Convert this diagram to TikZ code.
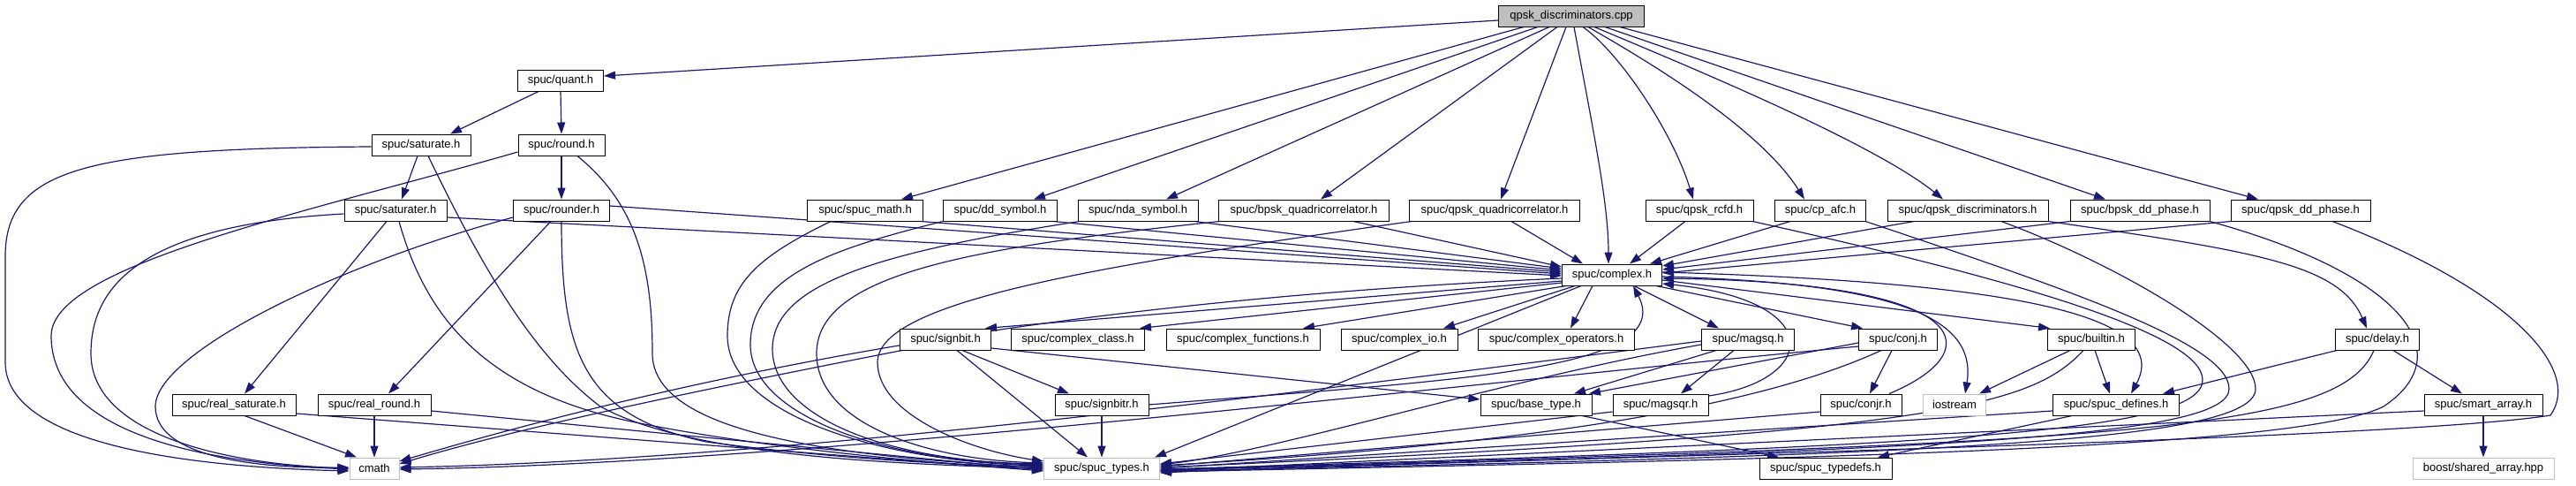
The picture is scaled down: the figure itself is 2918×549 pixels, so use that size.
\documentclass[tikz,border=0pt]{standalone}
\usepackage{fontspec}
\setmainfont{Liberation Sans}
\usetikzlibrary{arrows.meta}
\definecolor{edgec}{HTML}{191970}
\definecolor{grayb}{HTML}{BFBFBF}
\pgfdeclarelayer{bg}
\pgfsetlayers{bg,main}
\tikzset{
  nb/.style={draw=black, line width=1pt, fill=white, minimum height=24pt, inner sep=0pt, font=\fontsize{13pt}{15pt}\selectfont},
  ng/.style={nb, draw=grayb},
  ncpp/.style={nb, fill=grayb},
  e/.style={draw=edgec, line width=1.2pt, -{Triangle[length=13pt,width=9pt]}},
}
\begin{document}
\begin{tikzpicture}[x=1pt,y=-1pt]
\useasboundingbox (0,0) rectangle (2918,549);
% level 0
\node[ncpp, minimum width=165pt] (cpp) at (1780,18) {qpsk\_discriminators.cpp};
% level 1
\node[nb, minimum width=97pt] (quant) at (635,91) {spuc/quant.h};
% level 2
\node[nb, minimum width=112pt] (saturate) at (477,164) {spuc/saturate.h};
\node[nb, minimum width=98pt] (round) at (636,164) {spuc/round.h};
% level 3
\node[nb, minimum width=116pt] (saturater) at (448,238) {spuc/saturater.h};
\node[nb, minimum width=109pt] (rounder) at (636,238) {spuc/rounder.h};
\node[nb, minimum width=131pt] (sm) at (980,238) {spuc/spuc\_math.h};
\node[nb, minimum width=129pt] (dd) at (1133,238) {spuc/dd\_symbol.h};
\node[nb, minimum width=136pt] (nda) at (1289,238) {spuc/nda\_symbol.h};
\node[nb, minimum width=193pt] (bq) at (1477,238) {spuc/bpsk\_quadricorrelator.h};
\node[nb, minimum width=193pt] (qq) at (1693,238) {spuc/qpsk\_quadricorrelator.h};
\node[nb, minimum width=122pt] (rcfd) at (1925,238) {spuc/qpsk\_rcfd.h};
\node[nb, minimum width=103pt] (cpafc) at (2062,238) {spuc/cp\_afc.h};
\node[nb, minimum width=182pt] (qd) at (2229,238) {spuc/qpsk\_discriminators.h};
\node[nb, minimum width=158pt] (bdd) at (2424,238) {spuc/bpsk\_dd\_phase.h};
\node[nb, minimum width=158pt] (qdd) at (2606,238) {spuc/qpsk\_dd\_phase.h};
% level 4
\node[nb, minimum width=113pt] (cx) at (1826,311) {spuc/complex.h};
% level 5
\node[nb, minimum width=103pt] (sb) at (1071,384) {spuc/signbit.h};
\node[nb, minimum width=151pt] (cc) at (1221,384) {spuc/complex\_class.h};
\node[nb, minimum width=174pt] (cf) at (1408,384) {spuc/complex\_functions.h};
\node[nb, minimum width=132pt] (cio) at (1585,384) {spuc/complex\_io.h};
\node[nb, minimum width=177pt] (cop) at (1763,384) {spuc/complex\_operators.h};
\node[nb, minimum width=105pt] (msq) at (1980,384) {spuc/magsq.h};
\node[nb, minimum width=89pt] (conj) at (2150,384) {spuc/conj.h};
\node[nb, minimum width=99pt] (bi) at (2369,384) {spuc/builtin.h};
\node[nb, minimum width=95pt] (dly) at (2693,384) {spuc/delay.h};
% level 6
\node[nb, minimum width=140pt] (rs) at (265,458) {spuc/real\_saturate.h};
\node[nb, minimum width=128pt] (rr) at (424,458) {spuc/real\_round.h};
\node[nb, minimum width=106pt] (sbr) at (1248,458) {spuc/signbitr.h};
\node[nb, minimum width=126pt] (bt) at (1740,458) {spuc/base\_type.h};
\node[nb, minimum width=108pt] (msqr) at (1881,458) {spuc/magsqr.h};
\node[nb, minimum width=92pt] (conjr) at (2108,458) {spuc/conjr.h};
\node[ng, minimum width=71pt] (ios) at (2214,458) {iostream};
\node[nb, minimum width=143pt] (sdef) at (2397,458) {spuc/spuc\_defines.h};
\node[nb, minimum width=134pt] (sa) at (2813,458) {spuc/smart\_array.h};
% level 7
\node[ng, minimum width=56pt] (cmath) at (424,530) {cmath};
\node[ng, minimum width=131pt] (st) at (1248,530) {spuc/spuc\_types.h};
\node[nb, minimum width=150pt] (std) at (2068,530) {spuc/spuc\_typedefs.h};
\node[ng, minimum width=160pt] (boost) at (2813,530) {boost/shared\_array.hpp};

\begin{pgfonlayer}{bg}
% from cpp
\draw[e] ([yshift=-5pt]cpp.west) -- ([yshift=5pt]quant.east);
\draw[e] ([xshift=-54pt]cpp.south) -- ([xshift=41pt]sm.north);
\draw[e] ([xshift=-38pt]cpp.south) -- ([xshift=38pt]dd.north);
\draw[e] ([xshift=-25pt]cpp.south) -- ([xshift=32pt]nda.north);
\draw[e] ([xshift=-16pt]cpp.south) -- ([xshift=19pt]bq.north);
\draw[e] ([xshift=-6pt]cpp.south) -- ([xshift=7pt]qq.north);
\draw[e] ([xshift=3pt]cpp.south) .. controls (1805,150) and (1822,230) .. ([xshift=-4pt]cx.north);
\draw[e] ([xshift=13pt]cpp.south) .. controls (1835,60) and (1895,150) .. ([xshift=-7pt]rcfd.north);
\draw[e] ([xshift=19pt]cpp.south) .. controls (1850,60) and (1990,140) .. ([xshift=-18pt]cpafc.north);
\draw[e] ([xshift=26pt]cpp.south) .. controls (1900,70) and (2120,160) .. ([xshift=-28pt]qd.north);
\draw[e] ([xshift=38pt]cpp.south) -- ([xshift=-39pt]bdd.north);
\draw[e] ([xshift=55pt]cpp.south) -- ([xshift=-48pt]qdd.north);
% quant
\draw[e] ([xshift=-25pt]quant.south) -- ([xshift=33pt]saturate.north);
\draw[e] (quant.south) -- (round.north);
% saturate
\draw[e] ([yshift=-2pt]saturate.west) .. controls (100,168) and (6,190) .. (6,290) -- (6,410) .. controls (6,500) and (200,528) .. ([yshift=-3pt]cmath.west);
\draw[e] ([xshift=-4pt]saturate.south) -- ([xshift=7pt]saturater.north);
\draw[e] ([xshift=8pt]saturate.south) .. controls (540,290) and (600,400) .. (680,460) .. controls (780,515) and (1000,525) .. ([yshift=0pt]st.west);
% round
\draw[e] ([yshift=-8pt]round.west) .. controls (350,240) and (58,300) .. (58,380) .. controls (58,480) and (200,522) .. ([yshift=-1pt]cmath.west);
\draw[e] (round.south) -- (rounder.north);
\draw[e] ([xshift=18pt]round.south) .. controls (720,230) and (739,300) .. (739,400) .. controls (739,480) and (900,515) .. ([yshift=1pt]st.west);
% saturater
\draw[e] ([yshift=-4pt]saturater.west) .. controls (150,255) and (103,330) .. (103,400) .. controls (103,490) and (250,525) .. ([yshift=0pt]cmath.west);
\draw[e] ([xshift=-10pt]saturater.south) -- ([xshift=12pt]rs.north);
\draw[e] ([xshift=4pt]saturater.south) .. controls (480,350) and (540,440) .. (715,477) .. controls (850,505) and (1050,525) .. ([yshift=-1pt]st.west);
\draw[e] ([yshift=-8pt]saturater.east) -- ([yshift=-1pt]cx.west);
% rounder
\draw[e] ([yshift=-8pt]rounder.west) .. controls (380,300) and (176,400) .. (176,460) .. controls (176,520) and (300,530) .. ([yshift=1pt]cmath.west);
\draw[e] ([xshift=-12pt]rounder.south) -- ([xshift=16pt]rr.north);
\draw[e] (rounder.south) .. controls (636,400) and (660,470) .. (800,500) .. controls (950,520) and (1100,527) .. ([yshift=2pt]st.west);
\draw[e] ([yshift=5pt]rounder.east) -- ([yshift=1pt]cx.west);
% real_saturate, real_round
\draw[e] ([xshift=12pt]rs.south) -- ([xshift=-20pt]cmath.north);
\draw[e] ([yshift=-10pt]rs.east) -- ([yshift=-3pt]st.west);
\draw[e] (rr.south) -- (cmath.north);
\draw[e] ([yshift=-7pt]rr.east) -- ([yshift=-2pt]st.west);
% spuc_math, dd, nda, bq, qq
\draw[e] ([xshift=63pt]sm.south) -- ([yshift=3pt]cx.west);
\draw[e] ([xshift=-39pt]sm.south) .. controls (860,290) and (824,320) .. (824,380) .. controls (824,470) and (1000,522) .. ([yshift=3pt]st.west);
\draw[e] ([xshift=60pt]dd.south) -- ([yshift=5pt]cx.west);
\draw[e] ([xshift=-65pt]dd.south) .. controls (950,280) and (850,310) .. (850,390) .. controls (850,470) and (1000,522) .. ([yshift=4pt]st.west);
\draw[e] ([xshift=64pt]nda.south) -- ([yshift=7pt]cx.west);
\draw[e] ([xshift=-66pt]nda.south) .. controls (1000,285) and (875,320) .. (875,395) .. controls (875,470) and (1000,522) .. ([yshift=5pt]st.west);
\draw[e] ([xshift=56pt]bq.south) -- ([yshift=9pt]cx.west);
\draw[e] ([xshift=-95pt]bq.south) .. controls (1100,280) and (925,310) .. (925,400) .. controls (925,480) and (1050,520) .. ([yshift=6pt]st.west);
\draw[e] ([xshift=19pt]qq.south) -- ([xshift=-33pt]cx.north);
\draw[e] ([xshift=-94pt]qq.south) .. controls (1250,300) and (994,340) .. (994,410) .. controls (994,470) and (1100,510) .. ([yshift=8pt]st.west);
% rcfd, cp_afc, qd, bdd, qdd
\draw[e] ([xshift=-16pt]rcfd.south) -- ([xshift=20pt]cx.north);
\draw[e] ([xshift=60pt]rcfd.south) .. controls (2300,320) and (2495,380) .. (2495,430) .. controls (2495,490) and (2200,505) .. ([yshift=-1pt]st.east);
\draw[e] ([xshift=-34pt]cpafc.south) -- ([xshift=43pt]cx.north);
\draw[e] ([xshift=51pt]cpafc.south) .. controls (2350,330) and (2525,390) .. (2525,440) .. controls (2525,495) and (2200,510) .. ([yshift=-2pt]st.east);
\draw[e] ([xshift=-61pt]qd.south) -- ([yshift=10pt]cx.east);
\draw[e] ([xshift=91pt]qd.south) .. controls (2560,285) and (2650,300) .. ([xshift=-12pt]dly.north);
\draw[e] ([xshift=38pt]qd.south) .. controls (2400,300) and (2555,390) .. (2555,440) .. controls (2555,500) and (2200,515) .. ([yshift=-3pt]st.east);
\draw[e] ([xshift=-79pt]bdd.south) -- ([yshift=6pt]cx.east);
\draw[e] ([xshift=79pt]bdd.south) .. controls (2720,310) and (2790,400) .. (2700,460) .. controls (2600,510) and (2000,520) .. ([yshift=-4pt]st.east);
\draw[e] ([xshift=-79pt]qdd.south) -- ([yshift=2pt]cx.east);
\draw[e] ([xshift=36pt]qdd.south) .. controls (2850,330) and (2925,420) .. (2889,470) .. controls (2700,500) and (1600,522) .. ([yshift=-5pt]st.east);
% complex outgoing
\draw[e] ([yshift=-4pt]cx.west) .. controls (1200,340) and (800,420) .. ([yshift=8pt]cmath.east);
\draw[e] ([yshift=-7pt]cx.west) -- ([xshift=45pt]sb.north);
\draw[e] ([yshift=-9pt]cx.west) -- ([xshift=70pt]cc.north);
\draw[e] ([xshift=5pt]cx.south west) -- ([xshift=68pt]cf.north);
\draw[e] ([xshift=15pt]cx.south west) -- ([xshift=50pt]cio.north);
\draw[e] ([xshift=35pt]cx.south west) -- ([xshift=16pt]cop.north);
\draw[e] ([xshift=25pt]cx.south) -- ([xshift=-33pt]msq.north);
\draw[e] ([xshift=50pt]cx.south) -- ([xshift=-40pt]conj.north);
\draw[e] ([yshift=-6pt]cx.east) -- ([xshift=-47pt]bi.north);
\draw[e] ([yshift=-2pt]cx.east) .. controls (2150,320) and (2240,360) .. ([xshift=12pt]ios.north);
\draw[e] ([yshift=3pt]cx.east) .. controls (2300,320) and (2460,360) .. ([xshift=17pt]sdef.north);
\draw[e] ([xshift=22pt]cx.south west) -- ([xshift=60pt]st.north);
% back edges into complex
\draw[e] (sbr.east) .. controls (1650,430) and (1900,420) .. ([xshift=24pt]cx.south);
\draw[e] ([yshift=10pt]msqr.east) .. controls (2060,430) and (2070,340) .. ([yshift=-10pt]cx.east);
\draw[e] ([xshift=32pt]conjr.north) .. controls (2250,400) and (2250,320) .. ([yshift=-4pt]cx.east);
% magsq
\draw[e] ([xshift=-36pt]msq.south) -- ([xshift=43pt]bt.north);
\draw[e] ([xshift=-16pt]msq.south) -- ([xshift=23pt]msqr.north);
\draw[e] ([yshift=-2pt]msq.west) .. controls (1500,440) and (900,520) .. ([yshift=1pt]cmath.east);
\draw[e] ([yshift=-6pt]msq.west) .. controls (1700,430) and (1450,510) .. ([yshift=4pt]st.east);
% conj
\draw[e] ([yshift=-4pt]conj.west) -- ([xshift=60pt]bt.north);
\draw[e] ([xshift=-7pt]conj.south) -- ([xshift=10pt]conjr.north);
\draw[e] ([xshift=-19pt]conj.south) .. controls (1950,480) and (1600,510) .. ([yshift=3pt]st.east);
\draw[e] ([yshift=-8pt]conj.west) .. controls (1600,440) and (900,525) .. ([yshift=-1pt]cmath.east);
% signbit
\draw[e] ([xshift=19pt]sb.south) -- ([xshift=-37pt]sbr.north);
\draw[e] ([xshift=13pt]sb.south) -- ([xshift=-16pt]st.north);
\draw[e] ([xshift=-49pt]sb.south) .. controls (850,430) and (600,480) .. ([yshift=5pt]cmath.east);
\draw[e] ([yshift=-10pt]sb.east) -- ([yshift=6pt]bt.west);
\draw[e] (sbr.south) -- (st.north);
% level 6 and below
\draw[e] ([xshift=52pt]bt.south) -- ([xshift=-53pt]std.north);
\draw[e] ([yshift=-8pt]msqr.west) -- ([yshift=5pt]st.east);
\draw[e] ([yshift=-8pt]conjr.west) -- ([yshift=2pt]st.east);
\draw[e] ([xshift=-24pt]bi.south) -- ([xshift=28pt]ios.north);
\draw[e] ([xshift=4pt]bi.south) -- ([xshift=-7pt]sdef.north);
\draw[e] ([xshift=-9pt]bi.south) .. controls (2300,460) and (2200,490) .. ([yshift=1pt]st.east);
\draw[e] ([xshift=-50pt]sdef.south) -- ([xshift=59pt]std.north);
\draw[e] ([yshift=-7pt]sdef.west) -- ([yshift=0pt]st.east);
\draw[e] ([xshift=-46pt]dly.south) -- ([xshift=53pt]sdef.north);
\draw[e] ([xshift=18pt]dly.south) -- ([xshift=-24pt]sa.north);
\draw[e] ([xshift=-4pt]dly.south) .. controls (2650,490) and (2400,500) .. ([yshift=-2pt]st.east);
\draw[e] ([yshift=-7pt]sa.west) -- ([yshift=-3pt]st.east);
\draw[e] (sa.south) -- (boost.north);
\end{pgfonlayer}
\end{tikzpicture}
\end{document}
